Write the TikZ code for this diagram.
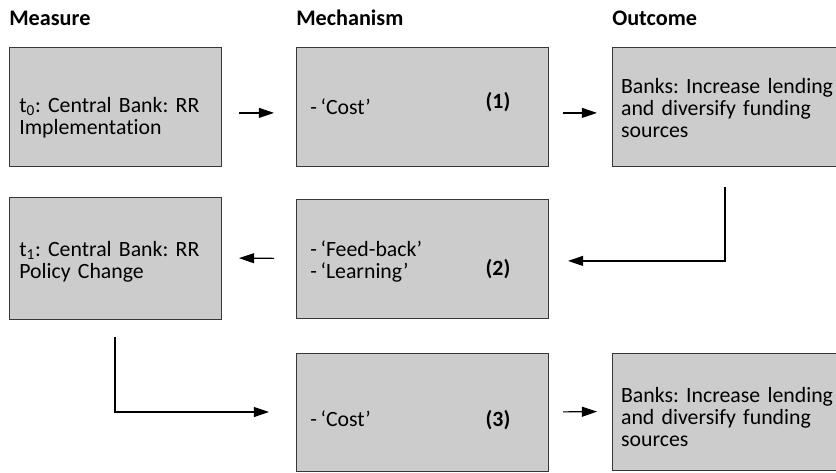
\documentclass[tikz,border=0pt]{standalone}
\usepackage{fontspec}
\setmainfont{Carlito}[Ligatures={TeX,NoCommon},Contextuals=NoAlternate]
\usetikzlibrary{arrows.meta}
\definecolor{boxgray}{RGB}{204,204,204}
\definecolor{boxline}{RGB}{55,55,55}
\frenchspacing

\begin{document}
\begin{tikzpicture}[every node/.style={font=\fontsize{15.5}{16}\selectfont},
  box/.style={draw=boxline,fill=boxgray,line width=.7pt,inner sep=0pt,outer sep=0pt,anchor=north west},
  txt/.style={anchor=base west,align=left,inner sep=0pt},
  head/.style={anchor=base west,inner sep=0pt,font=\fontsize{15.8}{16}\selectfont\bfseries},
  num/.style={anchor=base,inner sep=0pt,font=\fontsize{15.5}{16}\selectfont\bfseries},
  arr/.style={-{Triangle[length=.38cm,width=.25cm]},line width=.85pt}]
\clip (0,0) rectangle (20.9,-11.8);
% column heads
\node[head] (hmeas) at (.225,-.625) {Measure};
\node[head] (hmech) at (7.4,-.625) {Mechanism};
\node[head] (hout) at (15.3,-.625) {Outcome};
% row 1
\node[box,minimum width=5.3cm,minimum height=2.975cm] (t0) at (.225,-1.175) {};
\node[txt,text width=5cm] (t0txt) at (.475,-2.8) {t\textsubscript{0}: Central Bank: RR\\Implementation};
\node[box,minimum width=6.3cm,minimum height=2.975cm] (mech1) at (7.4,-1.175) {};
\node[txt] (mech1txt) at (7.75,-2.85) {-\,`Cost'};
\node[num] (n1) at (12.45,-2.72) {(1)};
\node[box,minimum width=5.65cm,minimum height=2.975cm] (out1) at (15.3,-1.175) {};
\node[txt,text width=5.3cm] (out1txt) at (15.52,-2.325) {Banks: Increase lending\\and diversify funding\\sources};
% row 2
\node[box,minimum width=5.3cm,minimum height=3.05cm] (t1) at (.225,-4.925) {};
\node[txt,text width=5cm] (t1txt) at (.475,-6.4) {t\textsubscript{1}: Central Bank: RR\\Policy Change};
\node[box,minimum width=6.3cm,minimum height=2.975cm] (mech2) at (7.4,-4.975) {};
\node[txt,text width=4cm] (mech2txt) at (7.75,-6.4) {-\,`Feed-back'\\-\,`Learning'};
\node[num] (n2) at (12.45,-6.875) {(2)};
% row 3
\node[box,minimum width=6.3cm,minimum height=2.95cm] (mech3) at (7.4,-8.825) {};
\node[txt] (mech3txt) at (7.75,-10.65) {-\,`Cost'};
\node[num] (n3) at (12.45,-10.65) {(3)};
\node[box,minimum width=5.65cm,minimum height=2.925cm] (out3) at (15.3,-8.825) {};
\node[txt,text width=5.3cm] (out3txt) at (15.52,-10.05) {Banks: Increase lending\\and diversify funding\\sources};
% arrows
\draw[arr,shorten <=.45cm,shorten >=.55cm] ([yshift=-.16cm]t0.east) -- ([yshift=-.16cm]mech1.west);
\draw[arr,shorten <=.375cm,shorten >=.375cm] ([yshift=-.16cm]mech1.east) -- ([yshift=-.16cm]out1.west);
\draw[arr,shorten <=.525cm,shorten >=.5cm] (out1.south) |- ([yshift=-.06cm]mech2.east);
\draw[arr,shorten <=.55cm,shorten >=.45cm] (mech2.west) -- (t1.east);
\draw[arr,shorten <=.45cm,shorten >=.675cm] (t1.south) |- (mech3.west);
\draw[arr,shorten <=.375cm,shorten >=.375cm] (mech3.east) -- (out3.west);
\end{tikzpicture}
\end{document}
